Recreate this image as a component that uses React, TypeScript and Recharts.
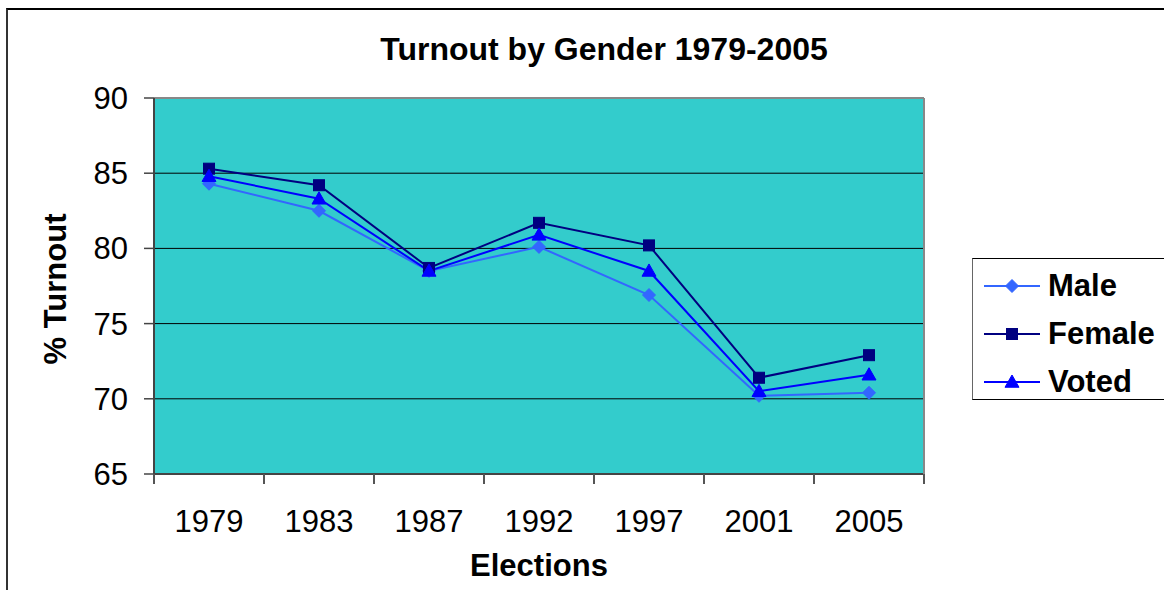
import { LineChart, Line, XAxis, YAxis, CartesianGrid, ReferenceLine } from 'recharts';

const elections = ['1979', '1983', '1987', '1992', '1997', '2001', '2005'];
const male = [84.3, 82.5, 78.5, 80.1, 76.9, 70.2, 70.4];
const female = [85.3, 84.2, 78.7, 81.7, 80.2, 71.4, 72.9];
const voted = [84.8, 83.3, 78.5, 80.9, 78.5, 70.5, 71.6];
const yTicks = [65, 70, 75, 80, 85, 90];

const MALE = '#3366FF';
const FEMALE = '#000080';
const VOTED = '#0000FF';
const FONT = '"Liberation Sans", Arial, sans-serif';

const data = elections.map((year, i) => ({
  year,
  male: male[i],
  female: female[i],
  voted: voted[i],
}));

// half of one category band, used to put x tick marks between the years
const HALF_BAND = 55;

function Diamond({ cx, cy, color }: any) {
  const r = 6.5;
  return <path d={`M${cx},${cy - r} L${cx + r},${cy} L${cx},${cy + r} L${cx - r},${cy} Z`} fill={color} stroke={color} />;
}

function Square({ cx, cy, color }: any) {
  const r = 5.5;
  return <rect x={cx - r} y={cy - r} width={r * 2} height={r * 2} fill={color} stroke={color} />;
}

function Triangle({ cx, cy, color }: any) {
  const r = 7;
  return <path d={`M${cx},${cy - r} L${cx + r},${cy + r * 0.75} L${cx - r},${cy + r * 0.75} Z`} fill={color} stroke={color} />;
}

function YearTick(props: any) {
  const { x, y, payload, index, visibleTicksCount } = props;
  return (
    <g>
      <line x1={x - HALF_BAND} y1={y} x2={x - HALF_BAND} y2={y + 10} stroke="#555" strokeWidth={2} />
      {index === visibleTicksCount - 1 && (
        <line x1={x + HALF_BAND} y1={y} x2={x + HALF_BAND} y2={y + 10} stroke="#555" strokeWidth={2} />
      )}
      <text x={x} y={y + 58} textAnchor="middle" fontSize={31} fontFamily={FONT} fill="#000">
        {payload.value}
      </text>
    </g>
  );
}

function LegendRow({ label, color, Marker }: any) {
  return (
    <div style={{ display: 'flex', alignItems: 'center', height: 48 }}>
      <svg width={64} height={20} style={{ marginLeft: 10 }}>
        <line x1={1} y1={10} x2={57} y2={10} stroke={color} strokeWidth={2} />
        <Marker cx={29} cy={10} color={color} />
      </svg>
      <span style={{ fontWeight: 'bold', fontSize: 31, marginLeft: 1 }}>{label}</span>
    </div>
  );
}

export default function App() {
  return (
    <div style={{ position: 'absolute', left: 0, top: 0, width: 1164, height: 590, overflow: 'hidden', background: '#fff', fontFamily: FONT }}>
      <div
        style={{
          position: 'absolute',
          left: 6,
          top: 8,
          width: 1200,
          height: 640,
          borderLeft: '2px solid #333',
          borderTop: '2px solid #000',
        }}
      />
      <div
        style={{
          position: 'absolute',
          left: 0,
          top: 33,
          width: 1208,
          textAlign: 'center',
          fontWeight: 'bold',
          fontSize: 32,
          lineHeight: '32px',
        }}
      >
        Turnout by Gender 1979-2005
      </div>

      <div style={{ position: 'absolute', left: 0, top: 0 }}>
        <LineChart width={1164} height={590} data={data} margin={{ top: 98, right: 239, bottom: 86, left: 74 }}>
          <CartesianGrid vertical={false} stroke="#000" fill="#33CCCC" strokeOpacity={1} />
          <XAxis
            dataKey="year"
            padding={{ left: HALF_BAND, right: HALF_BAND }}
            axisLine={{ stroke: '#444', strokeWidth: 2 }}
            tickLine={false}
            tickSize={0}
            tickMargin={0}
            height={30}
            interval={0}
            tick={<YearTick />}
            label={{
              content: ({ viewBox }: any) => (
                <text
                  x={viewBox.x + viewBox.width / 2}
                  y={viewBox.y + 102}
                  textAnchor="middle"
                  fontSize={31}
                  fontWeight="bold"
                  fontFamily={FONT}
                  fill="#000"
                >
                  Elections
                </text>
              ),
            }}
          />
          <YAxis
            domain={[65, 90]}
            ticks={yTicks}
            width={80}
            axisLine={{ stroke: '#444', strokeWidth: 2 }}
            tickLine={{ stroke: '#444', strokeWidth: 1.5 }}
            tickSize={10}
            tickMargin={16}
            tick={{ fontSize: 31, fill: '#000', fontFamily: FONT }}
            label={{
              content: ({ viewBox }: any) => {
                const cx = 55;
                const cy = viewBox.y + viewBox.height / 2 + 3;
                return (
                  <text
                    x={cx}
                    y={cy}
                    transform={`rotate(-90 ${cx} ${cy})`}
                    textAnchor="middle"
                    dominantBaseline="central"
                    fontSize={31}
                    fontWeight="bold"
                    fontFamily={FONT}
                    fill="#000"
                  >
                    % Turnout
                  </text>
                );
              },
            }}
          />
          <YAxis
            yAxisId="frame"
            orientation="right"
            width={1}
            tick={false}
            tickLine={false}
            axisLine={{ stroke: '#888', strokeWidth: 2 }}
          />
          <ReferenceLine y={90} stroke="#888" strokeWidth={2} />
          <Line
            dataKey="male"
            stroke={MALE}
            strokeWidth={2}
            isAnimationActive={false}
            dot={(p: any) => <Diamond key={p.index} cx={p.cx} cy={p.cy} color={MALE} />}
          />
          <Line
            dataKey="female"
            stroke={FEMALE}
            strokeWidth={2}
            isAnimationActive={false}
            dot={(p: any) => <Square key={p.index} cx={p.cx} cy={p.cy} color={FEMALE} />}
          />
          <Line
            dataKey="voted"
            stroke={VOTED}
            strokeWidth={2}
            isAnimationActive={false}
            dot={(p: any) => <Triangle key={p.index} cx={p.cx} cy={p.cy} color={VOTED} />}
          />
        </LineChart>
      </div>

      <div
        style={{
          position: 'absolute',
          left: 972,
          top: 258,
          width: 200,
          height: 142,
          border: '1px solid #000',
          borderLeftColor: '#666',
          background: '#fff',
          paddingTop: 3,
          boxSizing: 'border-box',
        }}
      >
        <LegendRow label="Male" color={MALE} Marker={Diamond} />
        <LegendRow label="Female" color={FEMALE} Marker={Square} />
        <LegendRow label="Voted" color={VOTED} Marker={Triangle} />
      </div>
    </div>
  );
}
